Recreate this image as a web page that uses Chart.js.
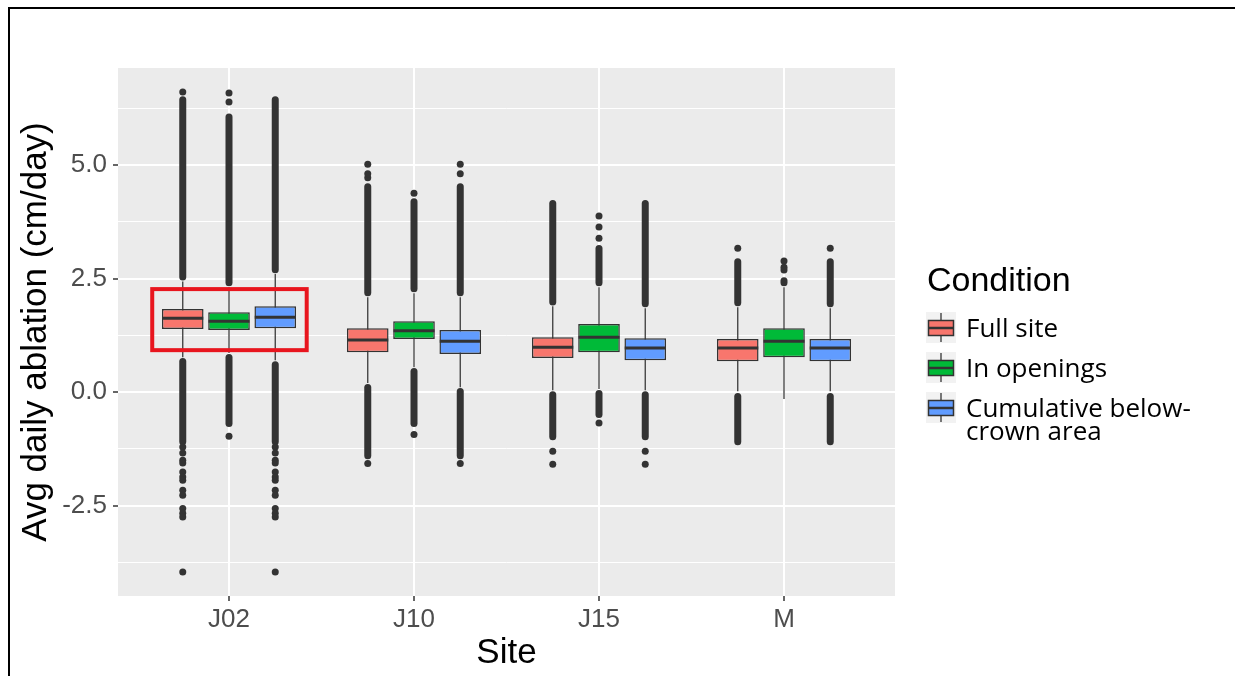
<!DOCTYPE html>
<html lang="en">
<head>
  <meta charset="UTF-8">
  <title>Avg daily ablation by site</title>
  <script src="https://cdn.jsdelivr.net/npm/chart.js"></script>
  <style>
    html, body {
      margin: 0;
      padding: 0;
      background: #fff;
    }

    #wrap {
      position: relative;
      width: 1235px;
      height: 676px;
      overflow: hidden;
    }

    #frame {
      position: absolute;
      left: 8px;
      top: 7px;
      right: -10px;
      bottom: -10px;
      border-top: 2px solid #000;
      border-left: 2px solid #000;
      pointer-events: none;
    }
  </style>
</head>
<body>
  <div id="wrap">
    <canvas id="chart" width="1235" height="676"></canvas>
    <div id="frame"></div>
  </div>

  <script>
    const sites = ['J02', 'J10', 'J15', 'M'];
    const conditions = ['Full site', 'In openings', 'Cumulative below-\ncrown area'];
    const fillColors = ['#F8766D', '#00BA38', '#619CFF'];
    const yLabelled = [-2.5, 0, 2.5, 5];

    // rows = condition, columns = site
    const lowerWhisker = [
      [0.77, 0.20, 0.04, 0.00],
      [0.86, 0.55, 0.07, -0.15],
      [0.70, 0.11, 0.04, 0.00]
    ];
    const q1 = [
      [1.39, 0.88, 0.75, 0.68],
      [1.37, 1.17, 0.88, 0.77],
      [1.41, 0.84, 0.70, 0.68]
    ];
    const medians = [
      [1.63, 1.15, 0.99, 0.97],
      [1.56, 1.35, 1.21, 1.12],
      [1.65, 1.12, 0.97, 0.97]
    ];
    const q3 = [
      [1.83, 1.41, 1.21, 1.17],
      [1.76, 1.56, 1.50, 1.41],
      [1.89, 1.37, 1.19, 1.17]
    ];
    const upperWhisker = [
      [2.44, 2.09, 1.89, 1.87],
      [2.31, 2.18, 2.31, 2.31],
      [2.60, 2.09, 1.85, 1.85]
    ];

    // outliers so dense they overlap into a solid column: [from, to]
    const highOutlierRuns = [
      [[2.46, 6.52], [2.11, 4.60], [1.91, 4.23], [1.89, 2.95]],
      [[2.33, 6.14], [2.20, 4.27], [2.33, 3.24], [2.33, 2.53]],
      [[2.62, 6.52], [2.11, 4.60], [1.87, 4.23], [1.87, 2.95]]
    ];
    const lowOutlierRuns = [
      [[-1.17, 0.75], [-1.48, 0.18], [-1.06, 0.02], [-1.17, -0.02]],
      [[-0.77, 0.84], [-0.77, 0.53], [-0.57, 0.05], null],
      [[-1.17, 0.68], [-1.48, 0.09], [-1.06, 0.02], [-1.17, -0.02]]
    ];
    // single outliers that stand apart
    const outlierPoints = [
      [[6.61, -1.21, -1.34, -1.50, -1.56, -1.76, -1.87, -1.94, -2.16, -2.27, -2.56, -2.67, -2.75, -3.96],
       [4.72, 4.81, 5.02, -1.57], [-1.30, -1.59], [3.17]],
      [[6.39, 6.59, -0.97], [4.38, -0.93], [3.39, 3.64, 3.88, -0.68], [2.69, 2.75, 2.89]],
      [[-1.21, -1.34, -1.50, -1.56, -1.76, -1.87, -1.94, -2.16, -2.27, -2.56, -2.67, -2.75, -3.96],
       [4.81, 5.02, -1.57], [-1.30, -1.59], [3.17]]
    ];

    // red box drawn around the J02 group
    const highlightX = [0.585, 1.42];
    const highlightY = [0.925, 2.27];

    const dodge = 0.25;
    const xPos = (c, i) => i + 1 + (c - 1) * dodge;
    const isLabelled = v => yLabelled.some(t => Math.abs(t - v) < 1e-6);

    const datasets = [];
    conditions.forEach((name, c) => {
      datasets.push({
        type: 'bar',
        data: sites.map((s, i) => ({ x: xPos(c, i), y: [lowerWhisker[c][i], upperWhisker[c][i]] })),
        backgroundColor: '#3a3a3a',
        maxBarThickness: 1.3,
        grouped: false,
        order: 5
      });

      const runs = [];
      sites.forEach((s, i) => {
        [highOutlierRuns[c][i], lowOutlierRuns[c][i]].forEach(r => {
          if (r) runs.push({ x: xPos(c, i), y: r });
        });
      });
      datasets.push({
        type: 'bar',
        data: runs,
        backgroundColor: '#333333',
        maxBarThickness: 7,
        borderRadius: 3.5,
        borderSkipped: false,
        grouped: false,
        order: 4
      });

      datasets.push({
        type: 'bar',
        role: 'box',
        label: name,
        data: sites.map((s, i) => ({ x: xPos(c, i), y: [q1[c][i], q3[c][i]] })),
        backgroundColor: fillColors[c],
        borderColor: '#333333',
        borderWidth: 1.5,
        borderSkipped: false,
        categoryPercentage: 1,
        barPercentage: 0.9,
        grouped: false,
        order: 2
      });

      datasets.push({
        type: 'scatter',
        data: sites.map((s, i) => ({ x: xPos(c, i), y: medians[c][i] })),
        pointStyle: 'line',
        pointRadius: 20.5,
        pointBorderWidth: 3,
        pointBorderColor: '#333333',
        order: 1
      });

      const pts = [];
      sites.forEach((s, i) => outlierPoints[c][i].forEach(v => pts.push({ x: xPos(c, i), y: v })));
      datasets.push({
        type: 'scatter',
        data: pts,
        pointRadius: 3.5,
        pointBackgroundColor: '#333333',
        pointBorderWidth: 0,
        order: 3
      });
    });

    const panelPlugin = {
      id: 'panel',
      beforeDraw(chart) {
        const { ctx, chartArea: a } = chart;
        ctx.save();
        ctx.fillStyle = '#ffffff';
        ctx.fillRect(0, 0, chart.width, chart.height);
        ctx.fillStyle = '#EBEBEB';
        ctx.fillRect(a.left, a.top, a.right - a.left, a.bottom - a.top);
        ctx.restore();
      }
    };

    const highlightPlugin = {
      id: 'highlight',
      afterDatasetsDraw(chart) {
        const { ctx, scales: { x, y } } = chart;
        const l = x.getPixelForValue(highlightX[0]);
        const r = x.getPixelForValue(highlightX[1]);
        const t = y.getPixelForValue(highlightY[1]);
        const b = y.getPixelForValue(highlightY[0]);
        ctx.save();
        ctx.strokeStyle = '#E8151E';
        ctx.lineWidth = 4;
        ctx.strokeRect(l, t, r - l, b - t);
        ctx.restore();
      }
    };

    const legendPlugin = {
      id: 'conditionLegend',
      afterDraw(chart) {
        const { ctx, chartArea } = chart;
        const x0 = chartArea.right + 31;
        ctx.save();
        ctx.fillStyle = '#000';
        ctx.font = '34px "Liberation Sans"';
        ctx.textBaseline = 'alphabetic';
        ctx.fillText('Condition', x0 + 1, 291);

        const boxes = chart.data.datasets.filter(d => d.role === 'box');
        boxes.forEach((d, i) => {
          const top = 312 + i * 40;
          ctx.fillStyle = '#F2F2F2';
          ctx.fillRect(x0, top, 30, 31);
          // whisker
          ctx.strokeStyle = '#333';
          ctx.lineWidth = 1.3;
          ctx.beginPath();
          ctx.moveTo(x0 + 15, top + 1);
          ctx.lineTo(x0 + 15, top + 30);
          ctx.stroke();
          // box
          ctx.fillStyle = d.backgroundColor;
          ctx.fillRect(x0 + 2.5, top + 8.5, 25, 15);
          ctx.lineWidth = 1.5;
          ctx.strokeRect(x0 + 2.5, top + 8.5, 25, 15);
          ctx.lineWidth = 2.5;
          ctx.beginPath();
          ctx.moveTo(x0 + 2.5, top + 16);
          ctx.lineTo(x0 + 27.5, top + 16);
          ctx.stroke();
          // label
          ctx.fillStyle = '#000';
          ctx.font = '26px "Open Sans"';
          d.label.split('\n').forEach((line, k) => {
            ctx.fillText(line, x0 + 40, top + 25 + k * 23);
          });
        });
        ctx.restore();
      }
    };

    new Chart(document.getElementById('chart'), {
      type: 'bar',
      data: { datasets },
      options: {
        responsive: false,
        animation: false,
        events: [],
        layout: { padding: { top: 68, right: 340, left: 0, bottom: 0 } },
        plugins: {
          legend: { display: false },
          tooltip: { enabled: false }
        },
        scales: {
          x: {
            type: 'linear',
            min: 0.4,
            max: 4.6,
            offset: false,
            border: { display: false },
            grid: {
              offset: false,
              color: '#ffffff',
              lineWidth: 2,
              tickColor: '#333333',
              tickLength: 5,
              tickWidth: 1.5
            },
            ticks: {
              stepSize: 1,
              includeBounds: false,
              autoSkip: false,
              maxRotation: 0,
              padding: 3,
              color: '#4D4D4D',
              font: { family: 'Liberation Sans', size: 26 },
              callback: v => sites[v - 1] || ''
            },
            title: {
              display: true,
              text: 'Site',
              color: '#000',
              font: { family: 'Liberation Sans', size: 35 },
              padding: { top: 0, bottom: 2 }
            },
            afterFit: s => { s.height = 80; }
          },
          y: {
            type: 'linear',
            min: -4.49,
            max: 7.14,
            border: { display: false },
            grid: {
              color: '#ffffff',
              lineWidth: ctx => (ctx.tick && isLabelled(ctx.tick.value)) ? 2 : 1,
              tickColor: ctx => (ctx.tick && isLabelled(ctx.tick.value)) ? '#333333' : 'rgba(0,0,0,0)',
              tickLength: 5,
              tickWidth: 1.5
            },
            ticks: {
              stepSize: 1.25,
              includeBounds: false,
              autoSkip: false,
              padding: 6,
              color: '#4D4D4D',
              font: { family: 'Liberation Sans', size: 26 },
              callback: v => isLabelled(v) ? v.toFixed(1) : ''
            },
            title: {
              display: true,
              text: 'Avg daily ablation (cm/day)',
              color: '#000',
              font: { family: 'Liberation Sans', size: 35 },
              padding: { top: 15, bottom: 0 }
            },
            afterFit: s => { s.width = 118; }
          }
        }
      },
      plugins: [panelPlugin, highlightPlugin, legendPlugin]
    });
  </script>
</body>
</html>
